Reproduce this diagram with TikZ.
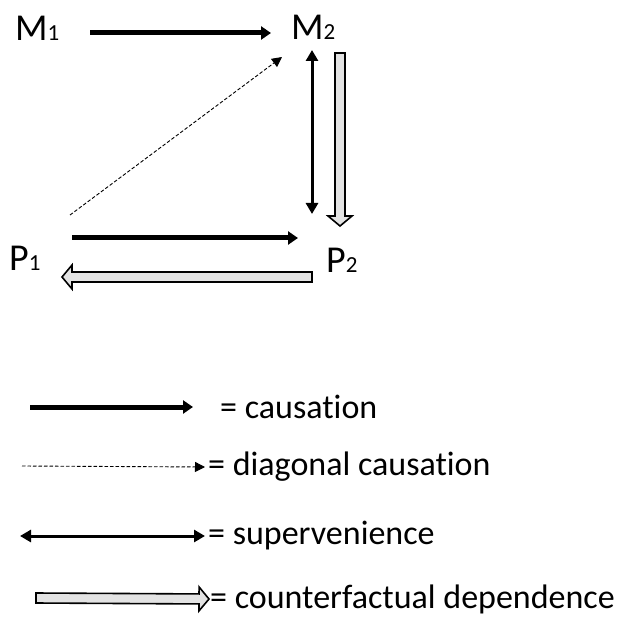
\documentclass[tikz,border=0pt]{standalone}
\usepackage{fontspec}
\setmainfont{Carlito}[Ligatures={NoCommon}]
\usetikzlibrary{arrows.meta,calc}
\tikzset{
  lab/.style     = {anchor=base west, inner sep=0, font=\fontsize{38}{40}\selectfont},
  legtext/.style = {anchor=west, inner sep=0, font=\fontsize{34}{36}\selectfont},
  causal/.style  = {line width=5pt, -{Triangle[length=10pt,width=13pt]}},
  diag/.style    = {line width=0.9pt, dash pattern=on 3.5pt off 2pt, -{Triangle[length=10pt,width=10pt]}},
  superv/.style  = {line width=3pt, {Triangle[length=11pt,width=12pt]}-{Triangle[length=11pt,width=12pt]}},
  counterf/.style= {draw, line width=1.6pt, fill=gray!22, line join=miter, to path={
      ($(\tikztostart)!5pt!-90:(\tikztotarget)$)
   -- ($(\tikztotarget)!10pt!(\tikztostart)!5pt!-90:(\tikztotarget)$)
   -- ($(\tikztotarget)!10pt!(\tikztostart)!12pt!-90:(\tikztotarget)$)
   -- (\tikztotarget)
   -- ($(\tikztotarget)!10pt!(\tikztostart)!12pt!90:(\tikztotarget)$)
   -- ($(\tikztotarget)!10pt!(\tikztostart)!5pt!90:(\tikztotarget)$)
   -- ($(\tikztostart)!5pt!90:(\tikztotarget)$) -- cycle}}
}
\newcommand{\sub}[2]{#1{\fontsize{23}{25}\selectfont #2}}

\begin{document}
\begin{tikzpicture}[x=1pt, y=-1pt]
  \useasboundingbox[fill=white] (0,0) rectangle (617,617);
  % labels
  \node[lab] (M1) at (15,41)  {\sub{M}{1}};
  \node[lab] (M2) at (291,40) {\sub{M}{2}};
  \node[lab] (P1) at (9,270)  {\sub{P}{1}};
  \node[lab] (P2) at (326,272){\sub{P}{2}};
  % arrow ends
  \coordinate (m1r) at (90,33);   \coordinate (m2l) at (271,33);
  \coordinate (p1d) at (70,215);  \coordinate (m2d) at (282,57);
  \coordinate (m2s) at (312,50);  \coordinate (p2s) at (312,214);
  \coordinate (m2c) at (340,53);  \coordinate (p2c) at (340,226);
  \coordinate (p1r) at (72,238);  \coordinate (p2l) at (298,238);
  \coordinate (p2b) at (312,277); \coordinate (p1b) at (62,277);
  % diagram
  \draw[causal]   (m1r) -- (m2l);
  \draw[diag]     (p1d) -- (m2d);
  \draw[superv]   (m2s) -- (p2s);
  \path[counterf] (m2c) to (p2c);
  \draw[causal]   (p1r) -- (p2l);
  \path[counterf] (p2b) to (p1b);
  % legend
  \node[legtext] (Lc) at (220,407) {= causation};
  \node[legtext] (Ld) at (208,467) {= diagonal causation};
  \node[legtext] (Ls) at (208,536) {= supervenience};
  \node[legtext] (Lf) at (210,599) {= counterfactual dependence};
  \coordinate (lc) at (30,407);  \coordinate (ld) at (22,466);
  \coordinate (ls) at (20,536);  \coordinate (lf) at (36,598);
  \draw[causal]   (lc) -- ([xshift=-27pt]Lc.west);
  \draw[diag]     (ld) -- ([xshift=-3pt]Ld.west);
  \draw[superv]   (ls) -- ([xshift=-3pt]Ls.west);
  \path[counterf] (lf) to ([xshift=-1pt]Lf.west);
\end{tikzpicture}
\end{document}
